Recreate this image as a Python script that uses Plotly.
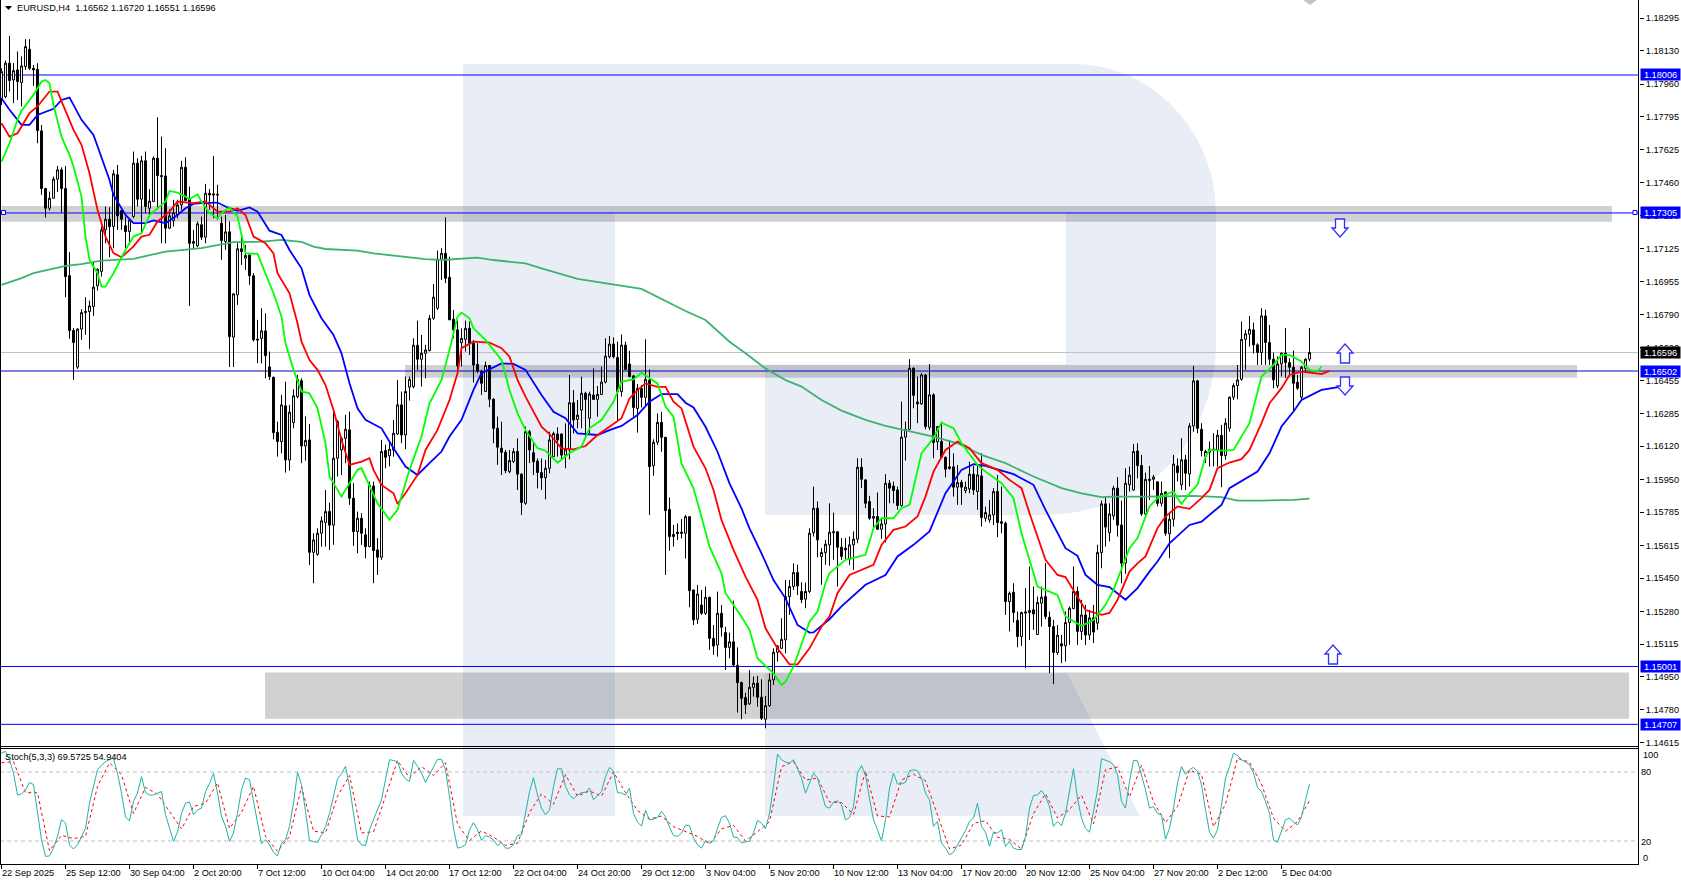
import plotly.graph_objects as go

FONT = "Liberation Sans, Arial, sans-serif"
FS = 9.2
PLOT_W, PLOT_H = 1639, 864

opens_pts = [
117888,117896,118066,117981,118032,117967,118049,118137,118040,118035,
117722,117429,117329,117380,117477,117524,117429,116986,116708,116522,
116715,116799,116804,116830,116935,117008,117219,117273,117236,117499,
117317,117240,117211,117287,117558,117375,117570,117329,117363,117583,
117495,117493,117228,117267,117295,117346,117537,117375,117151,117138,
117245,117182,117405,117402,117400,117253,117160,117209,116674,116889,
117123,117075,117092,116986,116664,116668,116706,116523,116470,116191,
116144,116325,116050,116240,116372,116453,116121,116152,115581,115571,
115678,115732,115788,115719,116059,116101,116160,116203,115856,115686,
115754,115670,115610,115918,115593,115556,116098,116071,116101,116182,
116330,116177,116420,116423,116633,116562,116592,116606,116770,116821,
117070,117100,116978,116765,116711,116646,116663,116719,116643,116536,
116499,116398,116530,116359,116211,116110,116089,115991,116042,116093,
115978,115830,116194,116087,116045,115986,115960,116008,116067,116182,
116182,116075,116101,116341,116256,116304,116389,116262,116380,116358,
116383,116446,116575,116639,116571,116397,116634,116538,116477,116312,
116414,116368,116456,116021,116140,116241,116165,115799,115661,115683,
115683,115678,115762,115390,115241,115313,115271,115352,115144,115110,
115271,115173,115098,115126,115007,114919,114843,114811,114895,114916,
114845,114733,114802,114933,115073,115093,115136,115356,115407,115478,
115382,115343,115382,115681,115805,115560,115580,115619,115681,115685,
115607,115602,115546,115619,115648,116013,115949,115839,115754,115763,
115698,115725,115932,115918,115898,115819,116166,116206,116516,116345,
116335,116482,116216,116381,116142,116144,116064,116015,116015,115912,
115937,115895,115903,115978,115890,115969,115754,115746,115771,115890,
115736,115729,115331,115378,115235,115153,115272,115275,115289,115163,
115323,115356,115251,115204,115072,115116,115106,115224,115295,115382,
115179,115263,115161,115248,115221,115580,115827,115681,115766,115907,
115720,115526,115924,115898,116096,116022,115776,115946,115952,115939,
115830,115888,115675,115749,116020,115924,116051,115979,116223,116452,
116206,116068,116089,116098,116101,116176,116073,116211,116369,116428,
116460,116663,116689,116711,116635,116596,116782,116647,116562,116427,
116538,116593,116545,116521,116445,116369,116516,116562]

closes_pts = [
118023,118066,117978,118028,117973,118052,118150,118040,118032,117724,
117429,117329,117380,117477,117524,117429,116982,116708,116647,116715,
116799,116804,116833,116928,117019,117219,117273,117236,117504,117290,
117273,117211,117270,117558,117375,117570,117338,117365,117583,117495,
117490,117228,117290,117307,117346,117537,117368,117151,117160,117250,
117182,117405,117397,117397,117397,117165,117209,116677,116894,117123,
117109,117089,116986,116661,116660,116706,116580,116474,116189,116144,
116330,116050,116293,116376,116460,116121,116149,115581,115644,115678,
115741,115788,115719,116059,116245,116160,116206,115856,115686,115754,
115678,115610,115923,115590,115556,116093,116064,116105,116186,116330,
116177,116398,116460,116633,116562,116592,116609,116770,116877,117070,
117100,116973,116762,116711,116528,116668,116719,116643,116533,116502,
116440,116530,116359,116211,116115,116089,115996,116047,116093,115978,
115834,116194,116101,116041,115986,115960,116008,116152,116185,116152,
116075,116104,116341,116253,116278,116389,116358,116385,116358,116383,
116446,116578,116639,116575,116397,116634,116510,116473,116317,116414,
116368,116460,116016,116140,116241,116165,115793,115661,115672,115676,
115678,115762,115386,115237,115369,115271,115352,115144,115105,115271,
115200,115098,115126,115009,114919,114839,114806,114895,114916,114845,
114738,114802,114933,115073,115105,115139,115356,115407,115478,115410,
115340,115382,115678,115805,115644,115580,115622,115683,115685,115607,
115560,115593,115619,115648,116013,115952,115830,115754,115763,115698,
115725,115932,115907,115895,115819,116166,116206,116516,116379,116335,
116482,116220,116381,116139,116220,116064,116003,116008,115912,115935,
115912,115912,115978,115898,115974,115758,115783,115771,115890,115732,
115729,115331,115373,115275,115153,115275,115278,115285,115268,115326,
115353,115255,115204,115072,115160,115106,115224,115297,115382,115179,
115263,115161,115248,115176,115580,115827,115709,115776,115907,115719,
115526,115932,115973,116093,116022,115776,115952,115952,115963,115830,
115881,115678,115749,116030,115986,116051,115983,116223,116452,116211,
116098,116093,116105,116105,116176,116073,116237,116369,116428,116457,
116663,116691,116714,116635,116596,116782,116647,116562,116457,116538,
116593,116545,116521,116440,116415,116521,116562,116596]

highs_pts = [
118040,118079,118205,118066,118125,118100,118188,118188,118057,118066,
117752,117433,117414,117490,117544,117537,117544,117106,116720,116720,
116816,116877,116860,117058,117024,117236,117338,117334,117524,117549,
117321,117287,117278,117617,117583,117595,117617,117426,117592,117791,
117693,117634,117324,117372,117372,117570,117588,117439,117219,117262,
117287,117453,117426,117595,117448,117287,117295,117262,116898,117151,
117185,117143,117092,117000,116762,116821,116795,116601,116474,116245,
116381,116448,116330,116409,116482,116465,116271,116233,115678,115703,
115763,115898,115834,116304,116254,116169,116279,116296,115932,115788,
115780,115703,115940,115940,115653,116152,116127,116135,116254,116457,
116398,116474,116474,116668,116758,116685,116635,116787,116944,117114,
117126,117283,117083,116812,116758,116719,116758,116753,116660,116643,
116508,116550,116533,116364,116271,116245,116101,116101,116110,116160,
115983,116220,116203,116143,116058,116058,116050,116194,116194,116216,
116185,116236,116482,116405,116355,116473,116397,116397,116516,116426,
116524,116668,116680,116673,116651,116688,116651,116605,116482,116436,
116431,116663,116510,116155,116287,116295,116168,115860,115720,115728,
115750,115771,115765,115390,115415,115390,115407,115356,115212,115381,
115313,115203,115173,115335,115098,114924,114868,114983,114950,114953,
114936,114851,114966,115093,115110,115246,115440,115440,115525,115517,
115429,115427,115703,115915,115839,115602,115644,115830,115783,115687,
115653,115653,115661,115687,116059,116059,115952,115868,115805,115885,
115754,115978,115949,115940,115915,116347,116245,116562,116521,116474,
116491,116487,116538,116389,116223,116245,116067,116152,116084,116025,
115949,115940,116042,116020,116025,116084,115813,115847,115907,115974,
115915,115737,115382,115424,115280,115280,115399,115509,115407,115356,
115407,115526,115280,115238,115212,115162,115280,115306,115509,115407,
115339,115314,115288,115314,115619,115844,115861,115830,115919,115963,
115844,116008,116017,116132,116135,116076,115986,116020,115974,115941,
115941,115890,115776,116076,116059,116161,116076,116237,116528,116457,
116237,116101,116144,116186,116203,116228,116262,116372,116440,116533,
116753,116711,116782,116748,116643,116821,116813,116736,116596,116576,
116596,116720,116567,116606,116482,116528,116567,116720]

lows_pts = [
117854,117888,117922,117863,117879,117846,118032,118032,117951,117659,
117397,117282,117317,117380,117411,117307,116877,116666,116457,116513,
116661,116686,116615,116782,116911,116982,117151,117080,117126,117219,
117219,117126,117143,117278,117338,117202,117304,117287,117363,117324,
117151,117151,117223,117236,117278,117321,117368,116833,117126,117131,
117168,117151,117321,117278,117270,117067,117118,116522,116522,116838,
117041,117016,116940,116652,116542,116541,116465,116457,116155,116067,
116084,115986,115996,116211,116364,116034,116047,115517,115424,115563,
115610,115610,115593,115619,115966,115974,116034,115822,115614,115576,
115619,115551,115607,115424,115466,115543,116008,116017,116067,116177,
116135,116105,116352,116414,116508,116423,116465,116601,116762,116812,
116965,116948,116762,116668,116508,116525,116601,116584,116443,116491,
116381,116398,116318,116135,116025,115974,115983,115983,116034,115898,
115771,115822,116034,115974,115906,115898,115850,115982,116067,116067,
116050,116008,116053,116185,116211,116211,116160,116185,116355,116270,
116380,116439,116566,116566,116253,116372,116507,116473,116270,116189,
116317,116321,115771,115970,116126,116092,115466,115589,115610,115644,
115652,115550,115302,115212,115217,115263,115263,115085,115060,115051,
115153,114983,115043,115000,114767,114733,114760,114806,114848,114797,
114729,114687,114797,114907,115026,115093,115068,115263,115390,115364,
115323,115297,115373,115661,115556,115416,115517,115512,115543,115407,
115543,115543,115517,115492,115627,115907,115805,115746,115703,115695,
115649,115631,115830,115830,115797,115813,116047,116203,116313,116237,
116330,116206,116203,116059,116101,116059,115962,116000,115864,115822,
115822,115881,115881,115873,115797,115712,115737,115732,115720,115658,
115678,115263,115179,115224,115099,115106,114992,115136,115187,115162,
115204,115241,114967,114911,115060,115018,115026,115111,115292,115111,
115136,115110,115136,115120,115187,115500,115610,115636,115746,115661,
115424,115472,115890,115895,115957,115766,115771,115847,115898,115814,
115814,115665,115551,115712,115941,115898,115898,115915,116194,116186,
116068,116034,116017,116017,116017,115912,116051,116194,116355,116359,
116453,116508,116626,116592,116533,116533,116533,116533,116415,116415,
116474,116466,116474,116296,116406,116359,116499,116551]

green_bars = [0,2,4,5,8,10,11,12,13,15,17,18,20,21,22,24,25,26,28,31,33,35,37,41,42,44,46,47,49,50,52,54,55,57,59,60,61,64,
66,68,70,71,73,75,77,79,81,82,85,86,89,90,92,94,97,99,102,105,107,110,112,114,115,117,118,121,125,127,129,131,
134,136,139,142,145,147,150,153,155,158,160,162,164,166,168,170,173,175,177,180,181,185,187,189,193,195,196,198,200,202,
204,206,207,211,216,218,220,223,225,227,230,233,235,238,240,244,246,250,253,255,259,264,266,270,273,276,278,
280,282,284,287,289,293,294,295,297,299,301,302,306,308,312,315,318,320,322,325,327,329,330]
green_pts = [117566,117659,117778,117825,117905,117973,117981,117964,117854,117693,117600,117541,117388,117185,117067,116999,116931,116931,116999,117118,117185,117202,117295,117363,117417,117409,117388,117375,117400,117363,117304,117278,117304,117333,117287,117202,117101,117097,
116999,116897,116778,116643,116508,116398,116389,116313,116135,115966,115864,115898,116000,116008,115915,115830,115746,115797,116000,116169,116338,116457,116609,116778,116799,116770,116719,116660,116558,116406,116287,116203,
116110,116097,116036,116084,116118,116211,116253,116346,116448,116460,116493,116465,116439,116321,116270,116033,115906,115762,115610,115474,115373,115254,115187,115043,114966,114907,114924,115000,115110,115229,
115280,115424,115475,115543,115568,115703,115754,115754,115805,115822,116084,116161,116240,116211,116135,116025,115991,115932,115856,115678,115407,115365,115255,115207,115237,115314,115390,
115492,115602,115653,115814,115856,115890,115856,115827,115881,115924,116068,116101,116098,116101,116237,116474,116533,116584,116584,116550,116508,116499,116525]

red_bars = [0,2,4,7,9,12,14,16,18,20,22,24,26,28,30,33,35,37,39,42,44,48,51,54,57,59,61,63,65,
66,68,69,72,74,75,77,79,81,83,85,87,90,92,93,95,98,99,101,104,106,109,112,114,115,118,122,125,127,129,131,
135,137,140,143,146,149,152,155,157,159,161,164,166,168,170,173,176,178,180,183,186,189,191,194,197,199,202,
205,207,209,212,218,220,223,226,229,231,233,236,239,242,245,249,252,255,257,261,264,266,269,271,275,277,
279,282,284,286,289,291,294,297,300,302,304,307,310,312,315,317,320,322,325,328,330,332]
red_pts = [117761,117693,117710,117812,117846,117922,117922,117829,117727,117651,117507,117321,117185,117101,117080,117135,117185,117194,117262,117312,117363,117355,117363,117312,117312,117329,117295,117185,117160,
117151,117100,116999,116897,116745,116651,116558,116508,116431,116304,116152,116025,116042,116059,116000,115923,115881,115827,115881,115974,116101,116203,116355,116491,116618,116651,116646,116618,116575,116457,116372,
116219,116182,116109,116104,116121,116177,116219,116262,116363,116405,116439,116422,116422,116346,116312,116118,116008,115898,115745,115593,115457,115339,115195,115093,115012,115012,115093,
115204,115255,115373,115466,115517,115619,115695,115712,115763,115864,115991,116101,116144,116110,116034,116000,115949,115907,115780,115543,115466,115455,115356,115288,115263,115273,
115339,115483,115525,115560,115704,115763,115814,115802,115856,115898,116008,116037,116054,116101,116237,116338,116415,116482,116499,116494,116487,116503]

blue_bars = [0,2,5,7,9,13,15,17,18,20,23,25,27,28,31,33,36,38,41,44,46,48,50,54,56,59,62,64,
66,67,70,72,75,77,80,83,85,87,89,91,95,98,101,104,107,110,112,115,118,120,125,128,131,
135,138,141,144,149,152,155,159,162,165,169,171,173,176,179,182,185,187,190,193,196,199,202,
203,207,210,216,221,224,228,232,236,240,243,246,253,258,261,264,266,269,271,274,277,281,
284,287,289,292,297,300,305,307,314,317,320,323,325,330,335]
blue_pts = [117888,117829,117753,117753,117803,117834,117879,117891,117854,117778,117702,117592,117473,117397,117295,117253,117253,117267,117253,117295,117329,117351,117355,117358,117338,117316,117333,117312,
117244,117215,117193,117117,117024,116888,116770,116685,116592,116440,116313,116254,116211,116110,116017,115974,116034,116093,116169,116254,116406,116491,116541,116538,116508,
116380,116295,116262,116185,116177,116202,116223,116278,116346,116385,116385,116341,116317,116219,116092,115931,115804,115703,115576,115440,115347,115212,115173,
115174,115241,115306,115416,115466,115560,115619,115687,115881,116000,116029,116020,115978,115924,115797,115678,115602,115563,115466,115416,115404,115340,
115399,115483,115534,115627,115720,115737,115822,115907,115991,116084,116220,116296,116355,116406,116423]

ma200_bars = [0,5,8,16,20,25,33,41,50,58,65,70,75,78,81,89,93,100,106,110,114,119,123,131,135,144,160,171,176,182,186,191,196,200,
205,210,216,221,226,233,239,245,251,258,265,270,275,278,286,298,305,309,315,323,327]
ma200_pts = [116940,116974,116999,117036,117045,117063,117072,117109,117126,117157,117159,117168,117158,117134,117122,117114,117100,117083,117071,117066,117070,117078,117066,117049,117024,116970,116919,116807,116761,116651,116592,116515,116456,116423,
116355,116301,116254,116223,116200,116169,116135,116076,116034,115966,115907,115881,115861,115864,115864,115868,115861,115844,115844,115847,115854]

stoch_main = [
96.5,98,90.7,79,60,61,64.5,71,69,47,
21,6.6,7,13.8,24,38.5,35.6,16.7,13,16.7,
24,31,53,67.5,82,86,89,90.7,92,79,
61.7,40.8,37.6,54.5,61.7,76,62,60,60,61.7,
63,43,31,19.6,28,44,53,54,43,47,
48.6,63,70,79,61.7,41.4,32.7,19.6,27,44,
64.6,74.8,73.3,54.5,34,17.6,21,16.7,10,7,
18,21,32.7,53,79.7,69,45.8,20.5,19.4,18.8,
25.4,32.7,44,58.8,73.9,78.5,85,67.5,44,21,
16.7,16,29.8,38.5,47,55.9,73.3,90.7,90,89,
79,74,71.8,90,85,79,71,77.6,83.5,91,
91,82,58.8,31,13.8,14.7,16.7,29.8,36,29.8,
20.5,24.6,23.4,21,16,18.7,13.8,13.8,16.7,24.8,
25.4,45.7,63,75,60,48.6,42.8,47,67.5,82.8,
82.8,67.5,60,56.7,60,62,62.5,66,55.8,59.6,
63,76,84,81,62,61.7,60,66,44,36.4,
33,46.6,38.5,39,40.5,45.7,41,31.8,24.8,24,
26.9,33.8,33.5,22.5,16.7,13.8,20.5,18,20,31,
40.5,42,35.5,23.4,23,18.4,19,20,27,38,
35.5,30.6,44,67.5,95.6,90.6,88.6,87.7,90.6,83.4,
74.7,61.6,70.4,79,74.7,63,50,48.6,53.8,55,
51.5,38.4,40.5,50,79,85.7,77.6,57,38.4,29.7,
20,38.4,66,79,69.5,69.8,71,81,82,81,
74.7,61.6,55.8,32.7,37,18.2,13.8,8,10.3,16.7,
22.5,28.9,37,39.9,53,32.7,27.7,15.3,27.7,26.9,
29.7,15.3,19.6,13.8,12.6,12.6,24,48.6,59.6,60,
64,58.7,50,32.7,37,33.5,44,64.5,82.8,57,
39.9,31,27.7,45.7,64.5,91.5,90,89,86.3,78,
54.4,48.6,71.8,90,89.8,77.6,64.5,48.6,50,44,
42.8,21.6,31,48.6,70.4,84.8,78,82,84,80.5,
68.9,47,27.7,22.5,29.7,51.5,74.7,84.8,96.4,94.4,
90.6,88.6,86.3,79,66.6,63,54.4,44,21,19,
28,38.4,39.9,36.4,34,41,55.8,69.57]

signal_bars = list(range(0, 328, 3))
signal_vals = [88,89,62,62,11.5,25,22,24,67.5,88,77.6,44,66.6,60.6,45.7,30.5,50,52.9,70.6,31,45,67.5,24,11,24,67,28.6,27,58.9,77,27,28,58.8,90,75,84.7,77,88,34.5,20.4,28.8,23.5,16.2,18,44.7,61,52,77.7,59,63.5,59,80,62,46.5,39,41.7,32.5,28,24,17.5,30.5,33.6,20,28,36.7,84.6,89,73,74.7,53.9,53.4,43,81,41.7,41,73,78,72.4,42,13,16.5,35.3,37.8,23.3,21.5,13,44,61,40,47.3,59.9,34.8,82,84.4,58.3,85.8,54,36,50,81.6,77.8,32.4,52,91.9,88.5,69.5,39.8,28.5,36.8,54.94]

price_tick_vals = [1.18295,1.18130,1.17960,1.17795,1.17625,1.17460,1.17290,1.17125,1.16955,1.16790,1.16620,1.16455,1.16285,1.16120,1.15950,1.15785,1.15615,1.15450,1.15280,1.15115,1.14950,1.14780,1.14615]
time_tick_bars = list(range(0, 321, 16))
time_tick_text = ["22 Sep 2025","25 Sep 12:00","30 Sep 04:00","2 Oct 20:00","7 Oct 12:00","10 Oct 04:00","14 Oct 20:00","17 Oct 12:00","22 Oct 04:00","24 Oct 20:00","29 Oct 12:00","3 Nov 04:00","5 Nov 20:00","10 Nov 12:00","13 Nov 04:00","17 Nov 20:00","20 Nov 12:00","25 Nov 04:00","27 Nov 20:00","2 Dec 12:00","5 Dec 04:00"]
level_prices = [1.18006, 1.17305, 1.16502, 1.15001, 1.14707]
last_price = 1.16596
zones = [(0, 402.6, 1.17340, 1.17261), (100.9, 393.9, 1.16533, 1.16468), (65.9, 406.9, 1.14970, 1.14735)]
stoch_levels = [80, 20]
title_text = "EURUSD,H4  1.16562 1.16720 1.16551 1.16596"
stoch_text = "Stoch(5,3,3) 69.5725 54.9404"
PRICE_TOP, PRICE_BOTTOM = 1.18387, 1.14597
MAIN_H = 746

assert len(opens_pts) == len(highs_pts) == len(lows_pts) == len(closes_pts) == len(stoch_main) == 328
assert len(green_bars) == len(green_pts) and len(red_bars) == len(red_pts) and len(blue_bars) == len(blue_pts)
assert len(ma200_bars) == len(ma200_pts) and len(signal_bars) == len(signal_vals)

def p(v):
    return [x / 1e5 for x in v]

def xp(px):
    return px / PLOT_W

def yp(py):
    return 1 - py / PLOT_H

def bar_paper(b):
    return xp(1.5 + 4 * b)

def price_paper(v):
    return yp((PRICE_TOP - v) / (PRICE_TOP - PRICE_BOTTOM) * MAIN_H)

def pt(a, b):
    return f"{xp(a):.5f},{yp(b):.5f}"

def poly(points):
    return "M " + " L ".join(pt(a, b) for a, b in points) + " Z"

bars = list(range(len(closes_pts)))
fig = go.Figure()
fig.add_trace(go.Candlestick(x=bars, open=p(opens_pts), high=p(highs_pts), low=p(lows_pts), close=p(closes_pts),
    xaxis="x", yaxis="y", whiskerwidth=0,
    increasing=dict(line=dict(color="#000000", width=1), fillcolor="#ffffff"),
    decreasing=dict(line=dict(color="#000000", width=1), fillcolor="#000000")))
for xs, ys, col in [(ma200_bars, ma200_pts, "#3cb371"), (blue_bars, blue_pts, "#0000ff"),
                    (red_bars, red_pts, "#ff0000"), (green_bars, green_pts, "#00ff00")]:
    fig.add_trace(go.Scatter(x=xs, y=p(ys), mode="lines", yaxis="y", line=dict(color=col, width=1.8)))
fig.add_trace(go.Scatter(x=signal_bars, y=signal_vals, mode="lines", yaxis="y2",
                         line=dict(color="#ff0000", width=1, dash="3px,3px")))
fig.add_trace(go.Scatter(x=bars, y=stoch_main, mode="lines", yaxis="y2",
                         line=dict(color="#20b2aa", width=1)))

shapes = []
for x0, x1, y0, y1 in zones:
    shapes.append(dict(type="rect", xref="paper", yref="paper", x0=bar_paper(x0), x1=bar_paper(x1),
                       y0=price_paper(y0), y1=price_paper(y1),
                       fillcolor="#d1d1d1", line_width=0, layer="below"))

# logo behind the chart
logo = "rgba(36,82,155,0.10)"
r_body = (f"M {pt(463,64)} L {pt(1073,64)} C {pt(1152,64)} {pt(1216,131)} {pt(1216,213)} "
          f"L {pt(1216,340)} C {pt(1216,440)} {pt(1150,515)} {pt(1040,515)} "
          f"L {pt(765,515)} L {pt(765,364.5)} L {pt(1066,364.5)} L {pt(1066,213)} L {pt(615,213)} "
          f"L {pt(615,816)} L {pt(463,816)} Z")
shapes.append(dict(type="path", xref="paper", yref="paper", path=r_body, fillcolor=logo, line_width=0, layer="below"))
shapes.append(dict(type="path", xref="paper", yref="paper",
                   path=poly([(765, 673), (1067, 673), (1140, 816), (765, 816)]),
                   fillcolor=logo, line_width=0, layer="below"))

shapes.append(dict(type="line", xref="paper", yref="y", x0=0, x1=1, y0=last_price, y1=last_price,
                   line=dict(color="#c0c0c0", width=1), layer="below"))
for lv in level_prices:
    col = "#0000cd" if lv == 1.16502 else "#0000ff"
    shapes.append(dict(type="line", xref="paper", yref="y", x0=0, x1=1, y0=lv, y1=lv,
                       line=dict(color=col, width=1), layer="below"))
for lv in stoch_levels:
    shapes.append(dict(type="line", xref="paper", yref="y2", x0=0, x1=1, y0=lv, y1=lv,
                       line=dict(color="#c0c0c0", width=1, dash="4px,3px"), layer="below"))

# handles on the 1.17305 line
for cx in (3.5, 1635):
    shapes.append(dict(type="rect", xref="paper", yref="paper", x0=xp(cx - 2), x1=xp(cx + 2),
                       y0=yp(210.5), y1=yp(214.5), fillcolor="#ffffff", line=dict(color="#0000ff", width=1)))

def up_arrow(cx, top, bottom):
    return poly([(cx, top), (cx + 8, top + 9), (cx + 4.5, top + 9), (cx + 4.5, bottom), (cx - 4.5, bottom),
                 (cx - 4.5, top + 9), (cx - 8, top + 9)])

def down_arrow(cx, top, bottom):
    return poly([(cx, bottom), (cx + 8, bottom - 9), (cx + 4.5, bottom - 9), (cx + 4.5, top), (cx - 4.5, top),
                 (cx - 4.5, bottom - 9), (cx - 8, bottom - 9)])

for path in (up_arrow(1345, 344, 363), down_arrow(1345, 377, 395), up_arrow(1333, 645, 664), down_arrow(1340, 219, 237)):
    shapes.append(dict(type="path", xref="paper", yref="paper", path=path, fillcolor="#ffffff",
                       line=dict(color="#3030ff", width=1.3)))

# small marks
shapes.append(dict(type="path", xref="paper", yref="paper", path=poly([(1303, 0), (1317, 0), (1310, 5)]),
                   fillcolor="#c4c4c4", line_width=0))
shapes.append(dict(type="path", xref="paper", yref="paper", path=poly([(5, 6), (12, 6), (8.5, 10)]),
                   fillcolor="#000000", line_width=0))

# panel frames
for y_line in (746.5, 748.5, 864.5):
    shapes.append(dict(type="line", xref="paper", yref="paper", x0=0, x1=1, y0=yp(y_line), y1=yp(y_line),
                       line=dict(color="#000000", width=1)))
shapes.append(dict(type="line", xref="paper", yref="paper", x0=xp(1638.5), x1=xp(1638.5), y0=yp(865), y1=1, line=dict(color="#000000", width=1)))
shapes.append(dict(type="line", xref="paper", yref="paper", x0=xp(0.5), x1=xp(0.5), y0=yp(865), y1=1, line=dict(color="#000000", width=1)))

ann = []
def text(x, y, s, xref="paper", yref="paper", **kw):
    d = dict(x=x, y=y, text=s, xref=xref, yref=yref, showarrow=False, xanchor="left", yanchor="middle",
             font=dict(family=FONT, size=FS, color="#000000"))
    d.update(kw)
    ann.append(d)

text(xp(14.5), yp(8), title_text)
text(xp(3), yp(757), stoch_text)
for t, s in zip(time_tick_bars, time_tick_text):
    text(xp(1.5 + 4 * t - 2), yp(873), s)
for s, py, px in [("100", 755, 1641), ("80", 772, 1639), ("20", 841.5, 1639), ("0", 858, 1640.5)]:
    text(xp(px), yp(py), s)
for lv in level_prices + [last_price]:
    bg = "#000000" if lv == last_price else "#0000ff"
    text(xp(1640), lv, f"{lv:.5f}", yref="y", bgcolor=bg, width=39, height=11, borderpad=0, align="center",
         font=dict(family=FONT, size=FS, color="#ffffff"))

fig.update_layout(
    width=1681, height=881, autosize=False, showlegend=False, paper_bgcolor="#ffffff", plot_bgcolor="#ffffff",
    margin=dict(l=0, r=42, t=0, b=17), shapes=shapes, annotations=ann, hovermode=False,
    font=dict(family=FONT, size=FS, color="#000000"),
    xaxis=dict(domain=[0, 1], range=[-0.375, 409.375], anchor="y2", showgrid=False, zeroline=False, showline=False,
               rangeslider=dict(visible=False), tickmode="array", tickvals=time_tick_bars, ticktext=[""] * len(time_tick_bars),
               ticks="outside", ticklen=4, tickcolor="#000000", tickwidth=1),
    yaxis=dict(domain=[1 - MAIN_H / PLOT_H, 1], range=[PRICE_BOTTOM, PRICE_TOP], side="right", anchor="x", showgrid=False,
               zeroline=False, showline=False, tickmode="array", tickvals=price_tick_vals,
               ticktext=[f"{v:.5f}" for v in price_tick_vals], ticks="outside", ticklen=4, tickcolor="#000000",
               tickfont=dict(family=FONT, size=FS, color="#000000")),
    yaxis2=dict(domain=[0, 115 / PLOT_H], range=[0, 100], side="right", anchor="x", showgrid=False, zeroline=False,
                showline=False, showticklabels=False, ticks=""),
)
fig.write_html("out.html", config=dict(displayModeBar=False),
               post_script="document.body.style.margin='0';document.body.style.overflow='hidden';")
